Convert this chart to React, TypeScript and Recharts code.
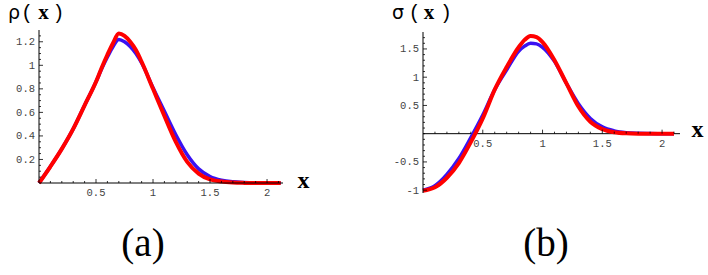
import React from "react";
import { LineChart, Line, XAxis, YAxis, ReferenceLine } from "recharts";

// panel (a): rho(x)
const X_A = [0, 0.1, 0.2, 0.3, 0.4, 0.5, 0.55, 0.6, 0.65, 0.7, 0.75, 0.8, 0.85, 0.9, 1.0, 1.1, 1.2, 1.3, 1.4, 1.5, 1.6, 1.7, 1.8, 1.9, 2.0, 2.12];
const RED_A = [0, 0.14, 0.29, 0.46, 0.66, 0.86, 0.98, 1.09, 1.19, 1.27, 1.25, 1.2, 1.13, 1.03, 0.8, 0.57, 0.35, 0.18, 0.08, 0.03, 0.012, 0.004, 0.001, 0, 0, 0];
const BLUE_A = [0, 0.14, 0.29, 0.46, 0.66, 0.86, 0.97, 1.07, 1.16, 1.22, 1.2, 1.16, 1.1, 1.02, 0.81, 0.61, 0.41, 0.24, 0.12, 0.055, 0.024, 0.01, 0.004, 0.001, 0, 0];
const X_LABELS_A = [0.5, 1, 1.5, 2];
const Y_LABELS_A = [0.2, 0.4, 0.6, 0.8, 1, 1.2];

// panel (b): sigma(x)
const X_B = [0, 0.1, 0.2, 0.3, 0.4, 0.5, 0.6, 0.7, 0.8, 0.85, 0.9, 0.95, 1.0, 1.1, 1.2, 1.3, 1.4, 1.5, 1.6, 1.7, 1.8, 1.9, 2.0, 2.1];
const RED_B = [-1.01, -0.95, -0.78, -0.52, -0.15, 0.27, 0.78, 1.18, 1.53, 1.66, 1.73, 1.71, 1.62, 1.3, 0.89, 0.48, 0.21, 0.08, 0.025, 0.006, 0.001, 0, 0, 0];
const BLUE_B = [-1.0, -0.92, -0.72, -0.44, -0.07, 0.33, 0.78, 1.13, 1.46, 1.55, 1.6, 1.59, 1.53, 1.28, 0.89, 0.53, 0.27, 0.12, 0.05, 0.018, 0.006, 0.002, 0, 0];
const X_LABELS_B = [0.5, 1, 1.5, 2];
const Y_LABELS_B = [-1, -0.5, 0.5, 1, 1.5];

const RED = "#ff0000";
const BLUE = "#3a12f2";
const TICK_FONT = "'Liberation Mono', 'DejaVu Sans Mono', monospace";

const rowsA = X_A.map((x, i) => ({ x, red: RED_A[i], blue: BLUE_A[i] }));
const rowsB = X_B.map((x, i) => ({ x, red: RED_B[i], blue: BLUE_B[i] }));

const steps = (from: number, to: number, step: number) => {
  const out: number[] = [];
  for (let v = from; v <= to + 1e-9; v += step) out.push(Math.round(v * 100) / 100);
  return out;
};

const isMajor = (v: number, majors: number[]) => majors.some((m) => Math.abs(m - v) < 1e-6);

// panel b geometry (x axis crosses at y = 0)
const B_DOMAIN: [number, number] = [-1.05, 1.8];
const B_TOP = 32;
const B_PLOT_H = 161;
const B_SHIFT = (B_PLOT_H * (0 - B_DOMAIN[0])) / (B_DOMAIN[1] - B_DOMAIN[0]);

const makeXTick = (majors: number[], shift: number) => (props: any) => {
  const { x, y, payload } = props;
  const yy = y - shift;
  const major = isMajor(payload.value, majors);
  return (
    <g>
      <line x1={x} x2={x} y1={yy} y2={yy - (major ? 4 : 2)} stroke="#000" strokeWidth={0.8} />
      {major && (
        <text x={x} y={yy + 13} textAnchor="middle" fontFamily={TICK_FONT} fontSize={10.5} fill="#444">
          {String(payload.value)}
        </text>
      )}
    </g>
  );
};

const makeYTick = (majors: number[]) => (props: any) => {
  const { x, y, payload } = props;
  const major = isMajor(payload.value, majors);
  return (
    <g>
      <line x1={x} x2={x + (major ? 4 : 2)} y1={y} y2={y} stroke="#000" strokeWidth={0.8} />
      {major && (
        <text x={x - 4} y={y + 3.5} textAnchor="end" fontFamily={TICK_FONT} fontSize={10.5} fill="#444">
          {String(payload.value)}
        </text>
      )}
    </g>
  );
};

const SERIF = "'Liberation Serif', serif";
const MONO = "'Liberation Mono', monospace";

const App = () => {
  return (
    <div style={{ position: "absolute", left: 0, top: 0, width: 708, height: 275, background: "#fff" }}>
      {/* (a) */}
      <div style={{ position: "absolute", left: 0, top: 0 }}>
        <LineChart width={300} height={200} data={rowsA} margin={{ top: 30, right: 17, left: 0, bottom: 0 }}>
          <XAxis
            dataKey="x"
            type="number"
            domain={[0, 2.14]}
            ticks={steps(0.1, 2.1, 0.1)}
            interval={0}
            height={17}
            tickSize={0}
            tickMargin={0}
            tickLine={false}
            stroke="#000"
            tick={makeXTick(X_LABELS_A, 0)}
          />
          <YAxis
            type="number"
            domain={[0, 1.3]}
            ticks={steps(0.05, 1.25, 0.05)}
            interval={0}
            width={39}
            tickSize={0}
            tickMargin={0}
            tickLine={false}
            stroke="#000"
            tick={makeYTick(Y_LABELS_A)}
          />
          <Line dataKey="blue" type="monotone" stroke={BLUE} strokeWidth={3.5} dot={false} isAnimationActive={false} />
          <Line dataKey="red" type="monotone" stroke={RED} strokeWidth={4} dot={false} isAnimationActive={false} />
        </LineChart>
      </div>

      {/* (b) */}
      <div style={{ position: "absolute", left: 380, top: 0 }}>
        <LineChart width={320} height={210} data={rowsB} margin={{ top: B_TOP, right: 20, left: 0, bottom: 0 }}>
          <XAxis
            dataKey="x"
            type="number"
            domain={[0, 2.15]}
            ticks={steps(0.1, 2.1, 0.1)}
            interval={0}
            height={210 - B_TOP - B_PLOT_H}
            tickSize={0}
            tickMargin={0}
            tickLine={false}
            axisLine={false}
            tick={makeXTick(X_LABELS_B, B_SHIFT)}
          />
          <YAxis
            type="number"
            domain={B_DOMAIN}
            ticks={steps(-1, 1.7, 0.1)}
            interval={0}
            width={43}
            tickSize={0}
            tickMargin={0}
            tickLine={false}
            stroke="#000"
            tick={makeYTick(Y_LABELS_B)}
          />
          <ReferenceLine y={0} stroke="#000" strokeWidth={1} />
          <Line dataKey="blue" type="monotone" stroke={BLUE} strokeWidth={3.5} dot={false} isAnimationActive={false} />
          <Line dataKey="red" type="monotone" stroke={RED} strokeWidth={4} dot={false} isAnimationActive={false} />
        </LineChart>
      </div>

      {/* labels */}
      <svg width={708} height={275} style={{ position: "absolute", left: 0, top: 0, pointerEvents: "none" }}>
        <text x={14} y={19} textAnchor="middle" fontFamily="'DejaVu Sans', sans-serif" fontSize={19}>ρ</text>
        <text x={27} y={19} textAnchor="middle" fontFamily={MONO} fontSize={20}>(</text>
        <text x={43.5} y={19} textAnchor="middle" fontFamily={SERIF} fontWeight="bold" fontSize={21}>x</text>
        <text x={58.5} y={19} textAnchor="middle" fontFamily={MONO} fontSize={20}>)</text>

        <text x={398} y={19} textAnchor="middle" fontFamily="'DejaVu Sans', sans-serif" fontSize={19}>σ</text>
        <text x={414.5} y={19} textAnchor="middle" fontFamily={MONO} fontSize={20}>(</text>
        <text x={429} y={19} textAnchor="middle" fontFamily={SERIF} fontWeight="bold" fontSize={21}>x</text>
        <text x={446} y={19} textAnchor="middle" fontFamily={MONO} fontSize={20}>)</text>

        <text x={303.5} y={188} textAnchor="middle" fontFamily={SERIF} fontWeight="bold" fontSize={24}>x</text>
        <text x={697.5} y={137} textAnchor="middle" fontFamily={SERIF} fontWeight="bold" fontSize={24}>x</text>

        <text x={143} y={256} textAnchor="middle" fontFamily={SERIF} fontSize={39}>(a)</text>
        <text x={546} y={256} textAnchor="middle" fontFamily={SERIF} fontSize={39}>(b)</text>
      </svg>
    </div>
  );
};

export default App;
